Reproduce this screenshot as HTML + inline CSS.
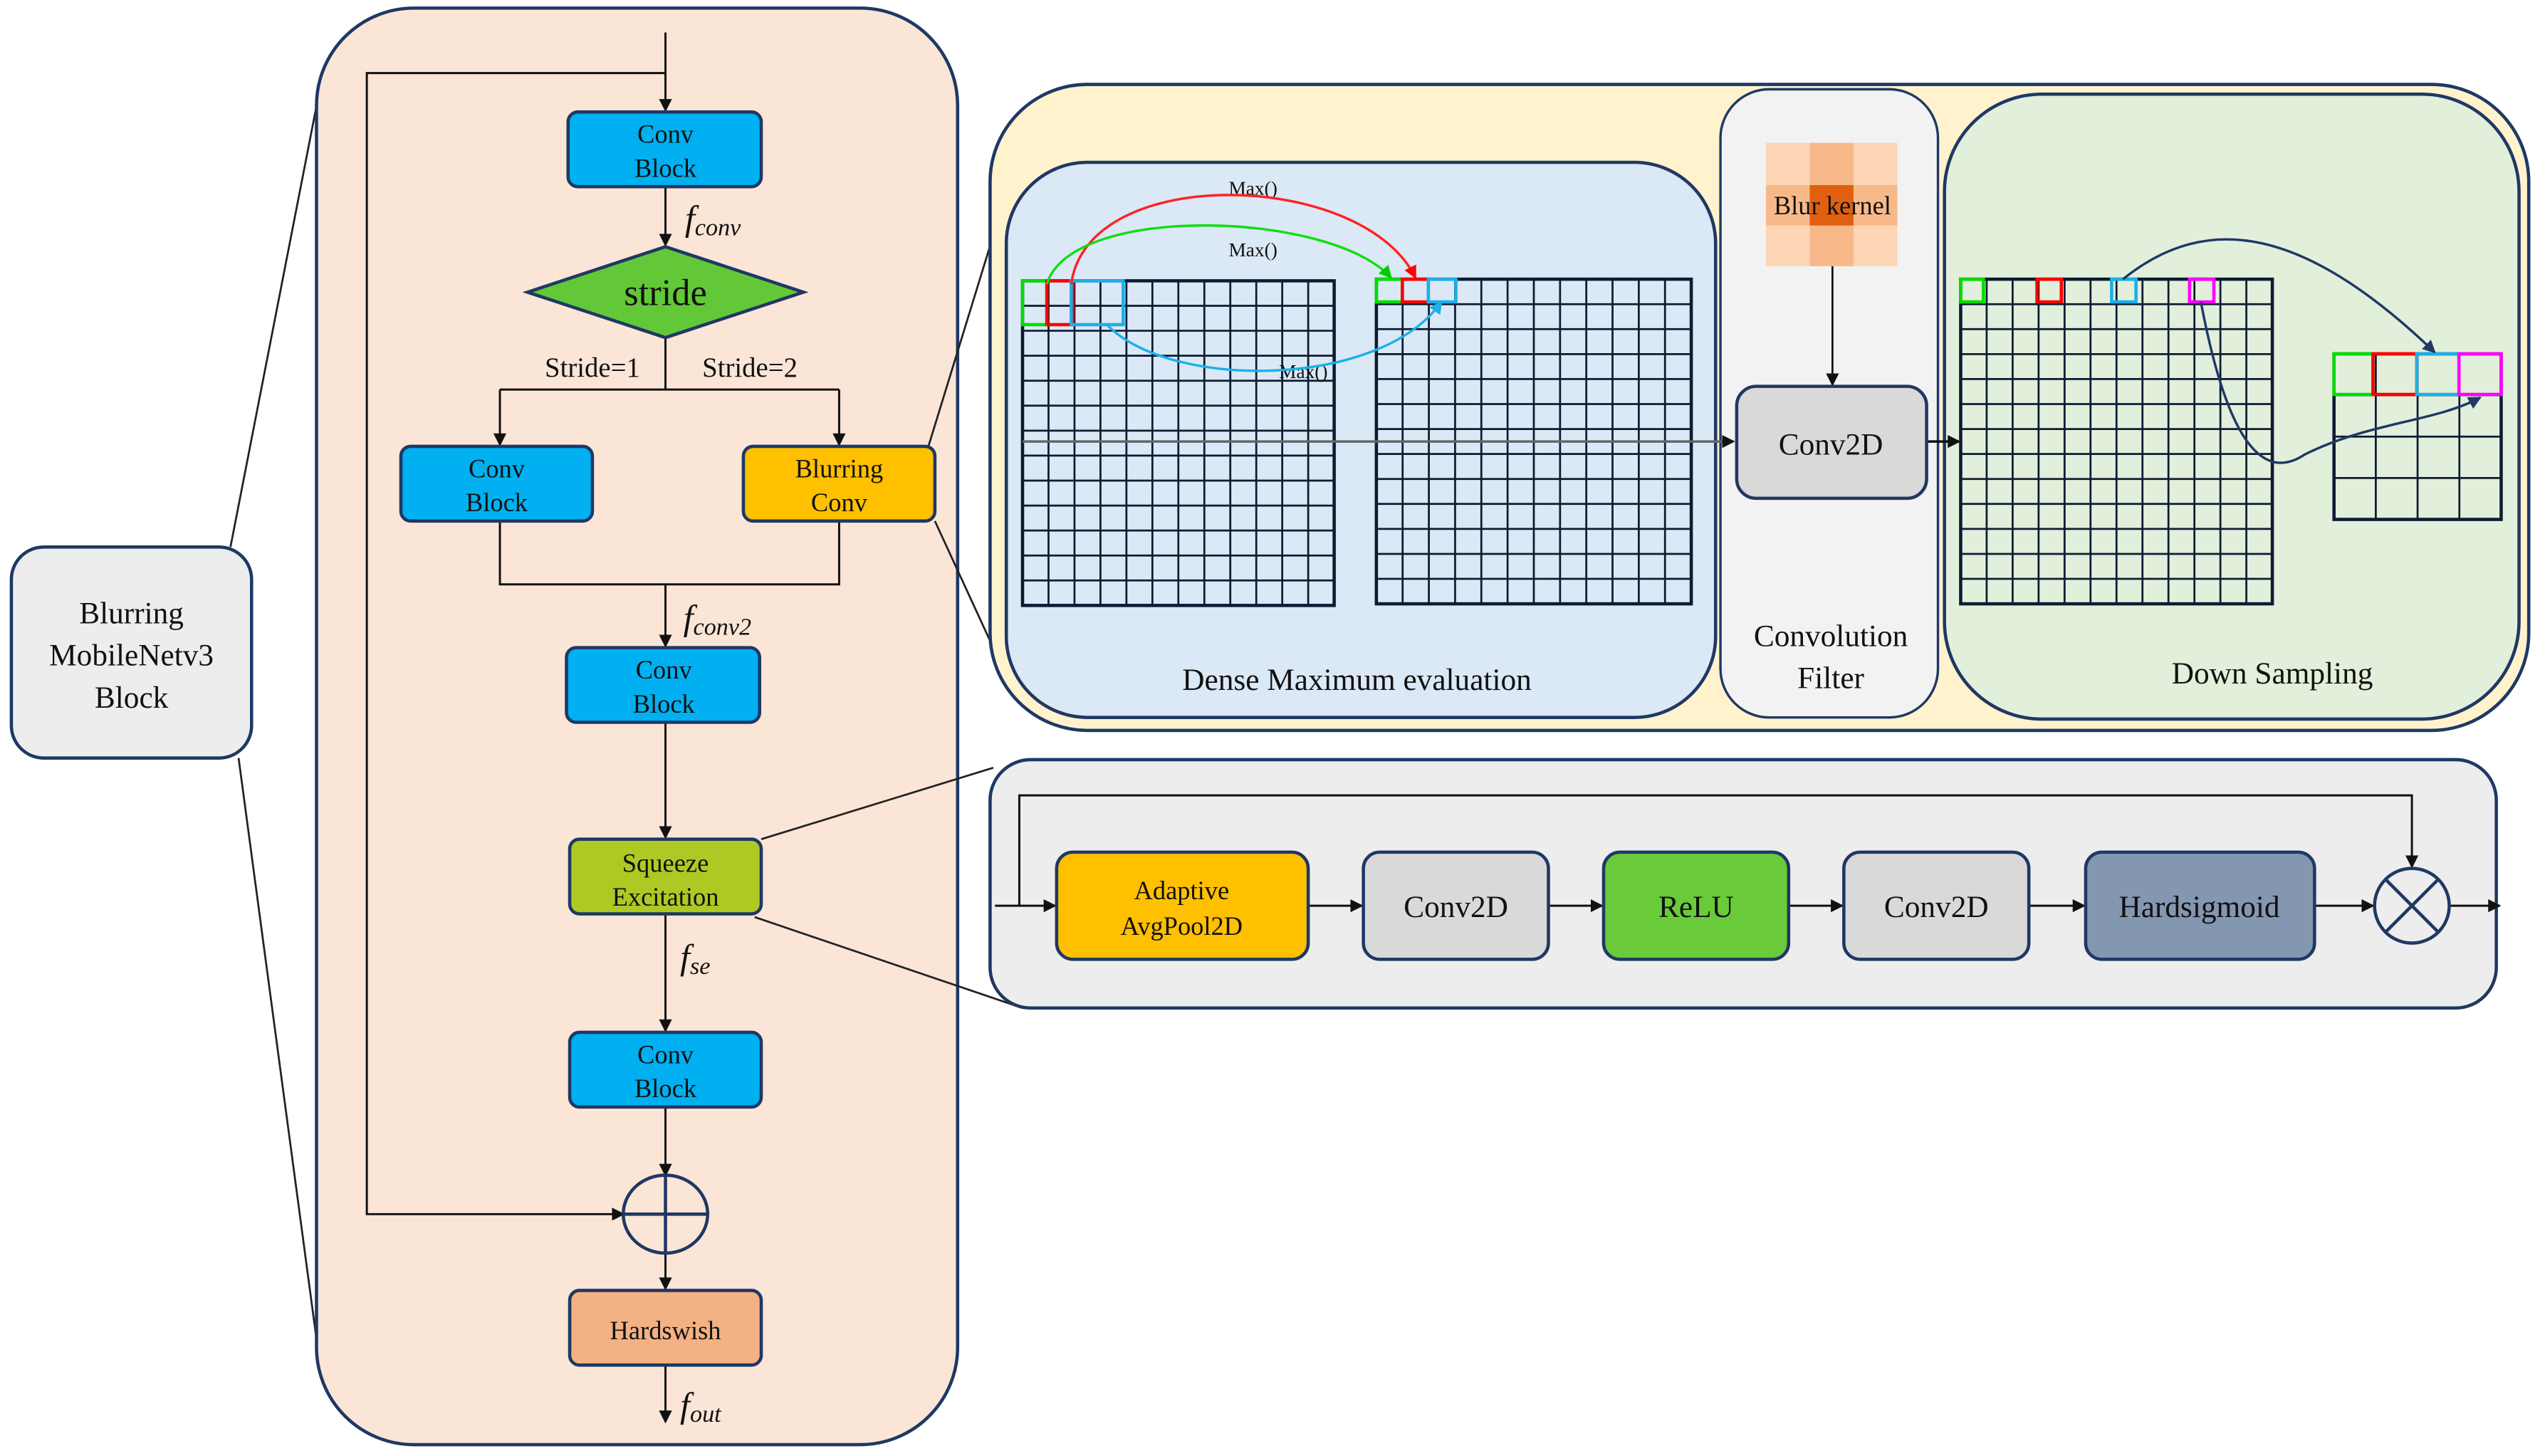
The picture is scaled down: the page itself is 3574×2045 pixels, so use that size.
<!DOCTYPE html>
<html><head><meta charset="utf-8"><style>
html,body{margin:0;padding:0;background:#fff;}
svg{display:block;}
text{font-family:"Liberation Serif",serif;fill:#111;}
</style></head><body>
<svg id="s" width="3574" height="2045" viewBox="0 0 1568 897" preserveAspectRatio="none" xmlns="http://www.w3.org/2000/svg">
<defs>
<marker id="a" markerWidth="8" markerHeight="8" refX="7" refY="4" orient="auto" markerUnits="userSpaceOnUse"><path d="M0,0 L8,4 L0,8 Z" fill="#111"/></marker>
<marker id="ar" markerWidth="8" markerHeight="8" refX="7" refY="4" orient="auto" markerUnits="userSpaceOnUse"><path d="M0,0 L8,4 L0,8 Z" fill="#f00"/></marker>
<marker id="ag" markerWidth="8" markerHeight="8" refX="7" refY="4" orient="auto" markerUnits="userSpaceOnUse"><path d="M0,0 L8,4 L0,8 Z" fill="#0c0"/></marker>
<marker id="ab" markerWidth="8" markerHeight="8" refX="7" refY="4" orient="auto" markerUnits="userSpaceOnUse"><path d="M0,0 L8,4 L0,8 Z" fill="#1ab0e8"/></marker>
<marker id="an" markerWidth="8" markerHeight="8" refX="7" refY="4" orient="auto" markerUnits="userSpaceOnUse"><path d="M0,0 L8,4 L0,8 Z" fill="#1f3864"/></marker>
</defs>
<g stroke="#222" stroke-width="1.2">
<line x1="142" y1="337" x2="197" y2="55"/><line x1="147" y1="467" x2="195" y2="825"/>
</g>
<rect x="7" y="337" width="148" height="130" rx="20" fill="#ededed" stroke="#1f3864" stroke-width="2"/>
<text x="81" y="384" font-size="19" text-anchor="middle">Blurring</text>
<text x="81" y="410" font-size="19" text-anchor="middle">MobileNetv3</text>
<text x="81" y="436" font-size="19" text-anchor="middle">Block</text>

<rect x="195" y="5" width="395" height="885" rx="60" fill="#fbe5d6" stroke="#1f3864" stroke-width="2"/>
<g stroke="#222" stroke-width="1.2">
<line x1="572" y1="275" x2="612" y2="145"/><line x1="576" y1="321" x2="617" y2="410"/>
<line x1="469" y1="517" x2="612" y2="473"/><line x1="465" y1="565" x2="630" y2="621"/>
</g>
<g stroke="#111" stroke-width="1.3" fill="none">
<polyline points="410,20 410,68" marker-end="url(#a)"/>
<polyline points="410,45 226,45 226,748 384,748" marker-end="url(#a)"/>
<polyline points="410,115 410,151" marker-end="url(#a)"/>
<polyline points="410,208 410,240"/>
<polyline points="308,240 517,240"/>
<polyline points="308,240 308,274" marker-end="url(#a)"/>
<polyline points="517,240 517,274" marker-end="url(#a)"/>
<polyline points="308,321 308,360 517,360 517,321"/>
<polyline points="410,360 410,398" marker-end="url(#a)"/>
<polyline points="410,445 410,516" marker-end="url(#a)"/>
<polyline points="410,563 410,635" marker-end="url(#a)"/>
<polyline points="410,682 410,724" marker-end="url(#a)"/>
<polyline points="410,772 410,794" marker-end="url(#a)"/>
<polyline points="410,841 410,876" marker-end="url(#a)"/>
</g>
<g stroke="#1f3864" stroke-width="2">
<rect x="350" y="69" width="119" height="46" rx="6" fill="#00b0f0"/>
<rect x="247" y="275" width="118" height="46" rx="6" fill="#00b0f0"/>
<rect x="458" y="275" width="118" height="46" rx="6" fill="#ffc000"/>
<rect x="349" y="399" width="119" height="46" rx="6" fill="#00b0f0"/>
<rect x="351" y="517" width="118" height="46" rx="6" fill="#afc924"/>
<rect x="351" y="636" width="118" height="46" rx="6" fill="#00b0f0"/>
<rect x="351" y="795" width="118" height="46" rx="6" fill="#f4b183"/>
<polygon points="325,180 410,152 495,180 410,208" fill="#62c837"/>
<ellipse cx="410" cy="748" rx="26" ry="24" fill="none"/>
<line x1="384" y1="748" x2="436" y2="748"/><line x1="410" y1="724" x2="410" y2="772"/>
</g>
<g font-size="16" text-anchor="middle">
<text x="410" y="88">Conv</text><text x="410" y="109">Block</text>
<text x="306" y="294">Conv</text><text x="306" y="315">Block</text>
<text x="517" y="294">Blurring</text><text x="517" y="315">Conv</text>
<text x="409" y="418">Conv</text><text x="409" y="439">Block</text>
<text x="410" y="537">Squeeze</text><text x="410" y="558">Excitation</text>
<text x="410" y="655">Conv</text><text x="410" y="676">Block</text>
<text x="410" y="825">Hardswish</text>
<text x="410" y="188" font-size="23">stride</text>
<text x="365" y="232" font-size="17">Stride=1</text>
<text x="462" y="232" font-size="17">Stride=2</text>
</g>
<g font-style="italic" font-size="22">
<text x="422" y="142">f<tspan font-size="15" dy="3">conv</tspan></text>
<text x="421" y="388">f<tspan font-size="15" dy="3">conv2</tspan></text>
<text x="419" y="597">f<tspan font-size="15" dy="3">se</tspan></text>
<text x="419" y="873">f<tspan font-size="15" dy="3">out</tspan></text>
</g>

<rect x="610" y="52" width="948" height="398" rx="60" fill="#fff2cc" stroke="#1f3864" stroke-width="2"/>
<rect x="620" y="100" width="437" height="342" rx="50" fill="#dbe8f5" stroke="#1f3864" stroke-width="2"/>
<rect x="1060" y="55" width="134" height="387" rx="30" fill="#f2f2f2" stroke="#1f3864" stroke-width="1.5"/>
<rect x="1198" y="58" width="354" height="385" rx="60" fill="#e2efda" stroke="#1f3864" stroke-width="2"/>
<g id="grids"></g>
<line x1="630" y1="272" x2="1068" y2="272" stroke="#666" stroke-width="1.5" marker-end="url(#a)"/>
<line x1="1187" y1="272" x2="1207" y2="272" stroke="#111" stroke-width="1.5" marker-end="url(#a)"/>
<g>
<rect x="1088" y="88" width="27" height="26" fill="#fcd5b5"/><rect x="1115" y="88" width="27" height="26" fill="#f8b98a"/><rect x="1142" y="88" width="27" height="26" fill="#fcd5b5"/>
<rect x="1088" y="114" width="27" height="25" fill="#f8b98a"/><rect x="1115" y="114" width="27" height="25" fill="#e06010"/><rect x="1142" y="114" width="27" height="25" fill="#f8b98a"/>
<rect x="1088" y="139" width="27" height="25" fill="#fcd5b5"/><rect x="1115" y="139" width="27" height="25" fill="#f8b98a"/><rect x="1142" y="139" width="27" height="25" fill="#fcd5b5"/>
</g>
<text x="1129" y="132" font-size="16" text-anchor="middle">Blur kernel</text>
<line x1="1129" y1="164" x2="1129" y2="237" stroke="#111" stroke-width="1.2" marker-end="url(#a)"/>
<rect x="1070" y="238" width="117" height="69" rx="12" fill="#d9d9d9" stroke="#1f3864" stroke-width="2"/>
<text x="1128" y="280" font-size="19" text-anchor="middle">Conv2D</text>
<text x="1128" y="398" font-size="19" text-anchor="middle">Convolution</text>
<text x="1128" y="424" font-size="19" text-anchor="middle">Filter</text>
<text x="836" y="425" font-size="19" text-anchor="middle">Dense Maximum evaluation</text>
<text x="1400" y="421" font-size="19" text-anchor="middle">Down Sampling</text>
<g font-size="12" text-anchor="middle">
<text x="772" y="120">Max()</text><text x="772" y="158">Max()</text><text x="803" y="233">Max()</text>
</g>
<g fill="none" stroke-width="1.5">
<path d="M660,175 C670,100 840,105 872,171" stroke="#f22" marker-end="url(#ar)"/>
<path d="M645,175 C660,125 820,130 857,171" stroke="#1d1" marker-end="url(#ag)"/>
<path d="M682,200 C720,240 850,240 888,186" stroke="#1ab0e8" marker-end="url(#ab)"/>
<path d="M1308,172 C1360,130 1420,140 1500,217" stroke="#1f3864" marker-end="url(#an)"/>
<path d="M1356,186 C1370,260 1390,300 1420,280 C1460,260 1500,260 1528,245" stroke="#1f3864" marker-end="url(#an)"/>
</g>

<rect x="610" y="468" width="928" height="153" rx="25" fill="#ededed" stroke="#1f3864" stroke-width="2"/>
<g stroke="#111" stroke-width="1.3" fill="none">
<polyline points="628,558 628,490 1486,490 1486,534" marker-end="url(#a)"/>
<line x1="613" y1="558" x2="650" y2="558" marker-end="url(#a)"/>
<line x1="806" y1="558" x2="839" y2="558" marker-end="url(#a)"/>
<line x1="954" y1="558" x2="987" y2="558" marker-end="url(#a)"/>
<line x1="1102" y1="558" x2="1135" y2="558" marker-end="url(#a)"/>
<line x1="1250" y1="558" x2="1284" y2="558" marker-end="url(#a)"/>
<line x1="1426" y1="558" x2="1462" y2="558" marker-end="url(#a)"/>
<line x1="1509" y1="558" x2="1540" y2="558" marker-end="url(#a)"/>
</g>
<g stroke="#1f3864" stroke-width="2">
<rect x="651" y="525" width="155" height="66" rx="10" fill="#ffc000"/>
<rect x="840" y="525" width="114" height="66" rx="10" fill="#d9d9d9"/>
<rect x="988" y="525" width="114" height="66" rx="10" fill="#6acb3a"/>
<rect x="1136" y="525" width="114" height="66" rx="10" fill="#d9d9d9"/>
<rect x="1285" y="525" width="141" height="66" rx="10" fill="#8497b0"/>
<circle cx="1486" cy="558" r="23" fill="none"/>
<line x1="1470" y1="542" x2="1502" y2="574"/><line x1="1502" y1="542" x2="1470" y2="574"/>
</g>
<g text-anchor="middle">
<text x="728" y="554" font-size="16">Adaptive</text><text x="728" y="576" font-size="16">AvgPool2D</text>
<text x="897" y="565" font-size="19">Conv2D</text>
<text x="1045" y="565" font-size="19">ReLU</text>
<text x="1193" y="565" font-size="19">Conv2D</text>
<text x="1355" y="565" font-size="19">Hardsigmoid</text>
</g>
</svg>
<script>
(function(){
var g=document.getElementById('grids'),h='';
function grid(x,y,w,hh,c,r,sw){
 var s='<rect x="'+x+'" y="'+y+'" width="'+w+'" height="'+hh+'" fill="none" stroke="#0d1b33" stroke-width="'+(sw+0.8)+'"/>';
 for(var i=1;i<c;i++){var xx=x+w*i/c;s+='<line x1="'+xx+'" y1="'+y+'" x2="'+xx+'" y2="'+(y+hh)+'" stroke="#0d1b33" stroke-width="'+sw+'"/>';}
 for(var j=1;j<r;j++){var yy=y+hh*j/r;s+='<line x1="'+x+'" y1="'+yy+'" x2="'+(x+w)+'" y2="'+yy+'" stroke="#0d1b33" stroke-width="'+sw+'"/>';}
 return s;}
function sq(x,y,w,hh,c){return '<rect x="'+x+'" y="'+y+'" width="'+w+'" height="'+hh+'" fill="none" stroke="'+c+'" stroke-width="2"/>';}
h+=grid(630,173,192,200,12,13,1.2);
h+=grid(848,172,194,200,12,13,1.2);
h+=grid(1208,172,192,200,12,13,1.2);
h+=grid(1438,218,103,102,4,4,1.2);
h+=sq(630,173,15,27,'#0d0')+sq(645,173,16,27,'#f00')+sq(660,173,32,27,'#1ab0e8');
h+=sq(848,172,16,14,'#0d0')+sq(864,172,16,14,'#f00')+sq(880,172,17,14,'#1ab0e8');
h+=sq(1208,172,14,14,'#0d0')+sq(1255,172,15,14,'#f00')+sq(1301,172,15,14,'#1ab0e8')+sq(1349,172,15,14,'#f0f');
h+=sq(1438,218,24,25,'#0d0')+sq(1462,218,27,25,'#f00')+sq(1489,218,26,25,'#1ab0e8')+sq(1515,218,26,25,'#f0f');
g.innerHTML=h;
})();
</script>
</body></html>
